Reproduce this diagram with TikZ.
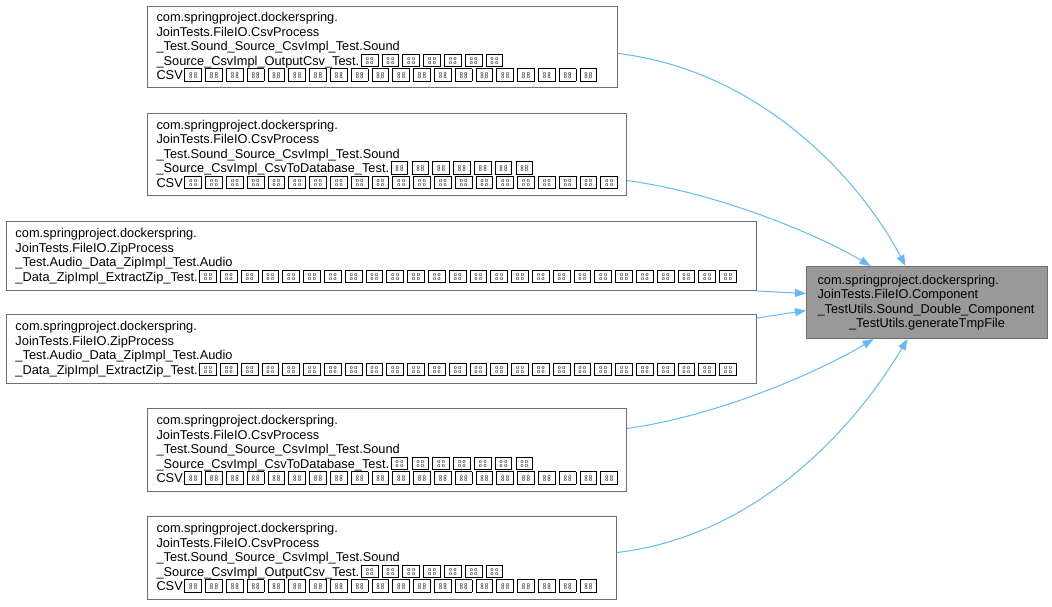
\documentclass[tikz,border=0pt]{standalone}
\usepackage{fontspec}
\setmainfont{Liberation Sans}
\usetikzlibrary{arrows.meta}
\definecolor{edgeblue}{HTML}{63B8FF}
\definecolor{bordergray}{HTML}{707070}
\definecolor{fillgray}{HTML}{999999}
\newcommand\boxfont{\fontsize{12.8}{14.5}\selectfont}
\newcommand\tofudots{\vbox{\hbox{o\kern1.6pt o}\kern-1.6pt\hbox{o\kern1.6pt o}}}
\newcommand\tofu{\kern1.6pt\raisebox{-1pt}{\setlength\fboxsep{0pt}\setlength\fboxrule{0.9pt}\fbox{\makebox[15.8pt]{\rule{0pt}{11.6pt}\raisebox{1.8pt}{\fontsize{5.4}{5.4}\selectfont\tofudots}}}}\kern1.6pt}
\newcommand\tofus[1]{\ifnum#1>0 \tofu\expandafter\tofus\expandafter{\the\numexpr#1-1\relax}\fi}
\begin{document}
\begin{tikzpicture}[x=1pt,y=-1pt,
  box/.style={draw=bordergray, line width=1pt, fill=white, anchor=north west,
    inner xsep=9pt, inner ysep=0pt, align=left, font=\boxfont},
  conn/.style={color=edgeblue, line width=1pt, -{Triangle[length=11pt,width=8pt]}}]
\useasboundingbox (0,0) rectangle (1052,607);
\node[box, text width=452pt, minimum height=81pt] (b1) at (147,6) {com.springproject.dockerspring.\\JoinTests.FileIO.CsvProcess\\\_Test.Sound\_Source\_CsvImpl\_Test.Sound\\\_Source\_CsvImpl\_OutputCsv\_Test.\tofus{7}\\CSV\tofus{20}};
\node[box, text width=461pt, minimum height=82pt] (b2) at (147,113) {com.springproject.dockerspring.\\JoinTests.FileIO.CsvProcess\\\_Test.Sound\_Source\_CsvImpl\_Test.Sound\\\_Source\_CsvImpl\_CsvToDatabase\_Test.\tofus{7}\\CSV\tofus{21}};
\node[box, text width=732pt, minimum height=69pt] (b3) at (6,221) {com.springproject.dockerspring.\\JoinTests.FileIO.ZipProcess\\\_Test.Audio\_Data\_ZipImpl\_Test.Audio\\\_Data\_ZipImpl\_ExtractZip\_Test.\tofus{26}};
\node[box, text width=732pt, minimum height=69pt] (b4) at (6,314) {com.springproject.dockerspring.\\JoinTests.FileIO.ZipProcess\\\_Test.Audio\_Data\_ZipImpl\_Test.Audio\\\_Data\_ZipImpl\_ExtractZip\_Test.\tofus{26}};
\node[box, text width=461pt, minimum height=83pt] (b5) at (147,408) {com.springproject.dockerspring.\\JoinTests.FileIO.CsvProcess\\\_Test.Sound\_Source\_CsvImpl\_Test.Sound\\\_Source\_CsvImpl\_CsvToDatabase\_Test.\tofus{7}\\CSV\tofus{21}};
\node[box, text width=451pt, minimum height=83pt] (b6) at (147,516) {com.springproject.dockerspring.\\JoinTests.FileIO.CsvProcess\\\_Test.Sound\_Source\_CsvImpl\_Test.Sound\\\_Source\_CsvImpl\_OutputCsv\_Test.\tofus{7}\\CSV\tofus{20}};
\node[box, fill=fillgray, inner xsep=11pt, text width=219pt, minimum height=72pt] (t) at (806,266) {com.springproject.dockerspring.\\JoinTests.FileIO.Component\\\_TestUtils.Sound\_Double\_Component\\\makebox[219pt][c]{\_TestUtils.generateTmpFile}};
\draw[conn] ([yshift=-6.5pt]b1.east) .. controls +(143,17) and +(-45,-86) .. ([xshift=-21.5pt]t.north);
\draw[conn] ([yshift=-26pt]b2.east) .. controls +(94,13) and +(-50,-30) .. ([xshift=-56.5pt]t.north);
\draw[conn] (b3.south east) -- ([yshift=9pt]t.west);
\draw[conn] ([yshift=-4pt]b4.north east) -- ([yshift=-8pt]t.west);
\draw[conn] ([yshift=21.5pt]b5.east) .. controls +(93,-13) and +(-53,32) .. ([xshift=-53.5pt]t.south);
\draw[conn] ([yshift=5.5pt]b6.east) .. controls +(144,-17) and +(-50,84) .. ([xshift=-19.5pt]t.south);
\end{tikzpicture}
\end{document}
